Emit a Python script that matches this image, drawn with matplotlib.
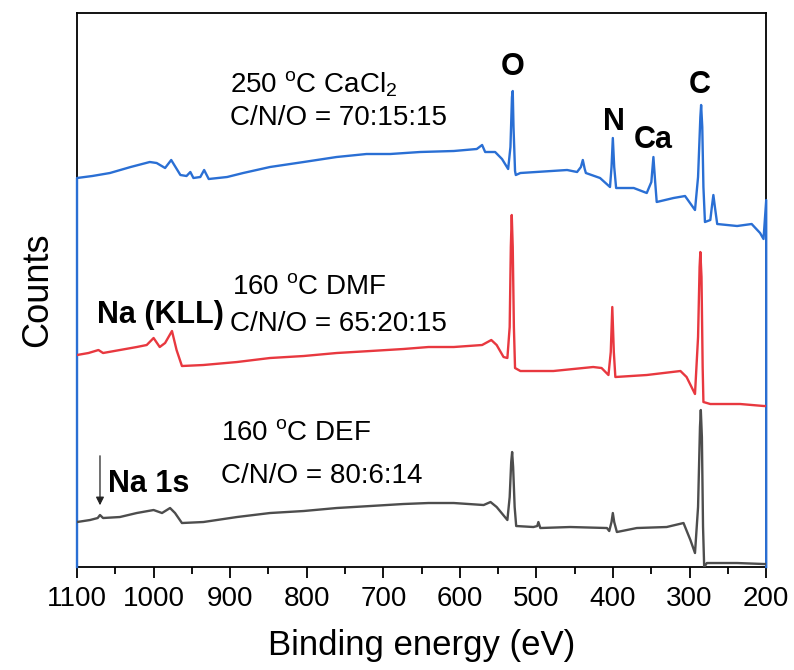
# XPS survey spectra, three samples stacked

import matplotlib.pyplot as plt
import numpy as np

plt.rcParams['font.family'] = ['Liberation Sans', 'DejaVu Sans']
plt.rcParams['mathtext.fontset'] = 'custom'
plt.rcParams['mathtext.rm'] = 'Liberation Sans'
plt.rcParams['mathtext.it'] = 'Liberation Sans:italic'

# data (binding energy in eV, counts in arbitrary units)
# 250 C CaCl2 sample
energy_cacl2 = [1100, 1100, 1080, 1057, 1030, 1005, 996, 985, 977, 965, 957, 952, 948, 939, 934, 928,
                904, 883, 848, 804, 761, 722, 691, 652, 608, 578, 571, 567, 554, 545, 537, 534, 532,
                531, 530, 528, 527, 521, 460, 447, 442, 439.5, 437, 435.5, 417, 404, 402, 400.3, 398.5,
                396, 373, 356, 350, 347.3, 345, 343, 321, 306, 293, 289, 286, 285, 283.5, 282, 280,
                273, 271, 269, 267, 264, 238, 219, 208, 203.5, 200, 200]
counts_cacl2 = [0, 389, 391, 394, 400, 405, 404, 399, 407, 392, 391, 395, 389, 390, 397, 388,
                390, 394, 400, 405, 410, 413, 413, 415, 416, 418, 422, 415, 415, 408, 398, 420, 470,
                476, 440, 396, 392, 394, 397, 395, 400, 407, 398, 394, 389, 380, 400, 429, 400,
                379, 379, 374, 385, 410, 385, 365, 369, 371, 357, 390, 450, 462, 440, 380, 345,
                347, 360, 372, 360, 343, 341, 343, 334, 328, 367, 0]

# 160 C DMF sample
energy_dmf = [1100, 1085, 1072, 1066, 1044, 1022, 1009, 1000, 992, 985, 976, 970, 963, 935, 891,
              848, 804, 761, 717, 674, 641, 608, 571, 559, 552, 543, 538, 535, 533.5, 532.3, 531,
              529.5, 528, 521, 478, 426, 415, 406, 403, 401, 399, 397, 356, 312, 304, 293, 289,
              287, 286, 284.5, 283, 282, 273, 234, 203, 200]
counts_dmf = [212, 214, 217, 214, 217, 220, 222, 229, 220, 224, 236, 217, 201, 202, 205,
              209, 211, 214, 216, 218, 220, 220, 222, 227, 222, 210, 209, 240, 320, 352, 320,
              240, 199, 196, 196, 200, 199, 192, 215, 260, 215, 190, 192, 196, 190, 173, 230,
              300, 315, 290, 200, 165, 163, 163, 161, 161]

# 160 C DEF sample
energy_def = [1100, 1083, 1073, 1070, 1066, 1044, 1022, 1000, 989, 978.5, 972, 963, 935, 891, 848,
              804, 761, 717, 674, 641, 608, 569, 560, 552, 538, 535, 533, 531.8, 530.5, 528.5,
              526.5, 504, 499, 497.5, 495, 456, 408, 405, 402, 400.3, 398.5, 395, 369, 330, 308,
              299, 293, 289, 286.5, 285.4, 284, 282.5, 281, 277.5, 238, 203, 200]
counts_def = [45, 47, 49, 52, 49, 50, 54, 57, 54, 59, 54, 44, 45, 50, 54,
              56, 59, 61, 63, 64, 64, 62, 65, 60, 47, 70, 105, 115, 100, 60,
              41, 40, 41, 45, 39, 40, 39, 36, 45, 54, 45, 35, 39, 40, 44,
              27, 14, 60, 140, 157, 130, 40, 0, 4, 4, 3, 3]

x_ticks = [1100, 1000, 900, 800, 700, 600, 500, 400, 300, 200]

# create the figure and axes
fig = plt.figure(figsize=(7.94, 6.70), dpi=100)
ax = fig.add_axes([0.097, 0.1537, 0.868, 0.8269])

# plot the spectra (clip off so the edge segments on the spines show)
ax.plot(energy_cacl2, counts_cacl2, color='#2a6fd4', lw=1.7, zorder=3, clip_on=False)
ax.plot(energy_dmf, counts_dmf, color='#e8383f', lw=1.7, zorder=3)
ax.plot(energy_def, counts_def, color='#4d4d4d', lw=1.7, zorder=3)

# axis ranges (reversed binding energy)
ax.set_xlim(1100, 200)
ax.set_ylim(0, 554)

ax.set_xticks(x_ticks)
ax.set_xticks(np.arange(200, 1101, 50), minor=True)
ax.set_yticks([])
ax.tick_params(axis='x', which='major', direction='out', length=8, width=1.3, labelsize=20, pad=6)
ax.tick_params(axis='x', which='minor', direction='out', length=5, width=1.3)
for s in ax.spines.values():
    s.set_linewidth(1.3)

ax.set_xlabel('Binding energy (eV)', fontsize=25, labelpad=12)
ax.set_ylabel('Counts', fontsize=26, labelpad=16)

# sample labels
ax.text(900, 475, '250 $^{\\mathrm{o}}$C CaCl$_2$', fontsize=20, ha='left', va='baseline')
ax.text(900, 442, 'C/N/O = 70:15:15', fontsize=20, ha='left', va='baseline')
ax.text(897, 273, '160 $^{\\mathrm{o}}$C DMF', fontsize=20, ha='left', va='baseline')
ax.text(900, 236, 'C/N/O = 65:20:15', fontsize=20, ha='left', va='baseline')
ax.text(912, 127, '160 $^{\\mathrm{o}}$C DEF', fontsize=20, ha='left', va='baseline')
ax.text(912, 84, 'C/N/O = 80:6:14', fontsize=20, ha='left', va='baseline')

# peak labels
ax.text(531.8, 492, 'O', fontsize=22, fontweight='bold', ha='center', va='baseline')
ax.text(399.5, 437, 'N', fontsize=22, fontweight='bold', ha='center', va='baseline')
ax.text(347, 419, 'Ca', fontsize=22, fontweight='bold', ha='center', va='baseline')
ax.text(286.3, 474, 'C', fontsize=22, fontweight='bold', ha='center', va='baseline')
ax.text(1074, 244, 'Na (KLL)', fontsize=22, fontweight='bold', ha='left', va='baseline')
ax.text(1059.5, 75, 'Na 1s', fontsize=22, fontweight='bold', ha='left', va='baseline')

# arrow for Na 1s
ax.annotate('', xy=(1070, 59), xytext=(1070, 114),
            arrowprops=dict(arrowstyle='-|>', color='#222222', lw=0.9, mutation_scale=12))

plt.savefig('out.png', dpi=100)
